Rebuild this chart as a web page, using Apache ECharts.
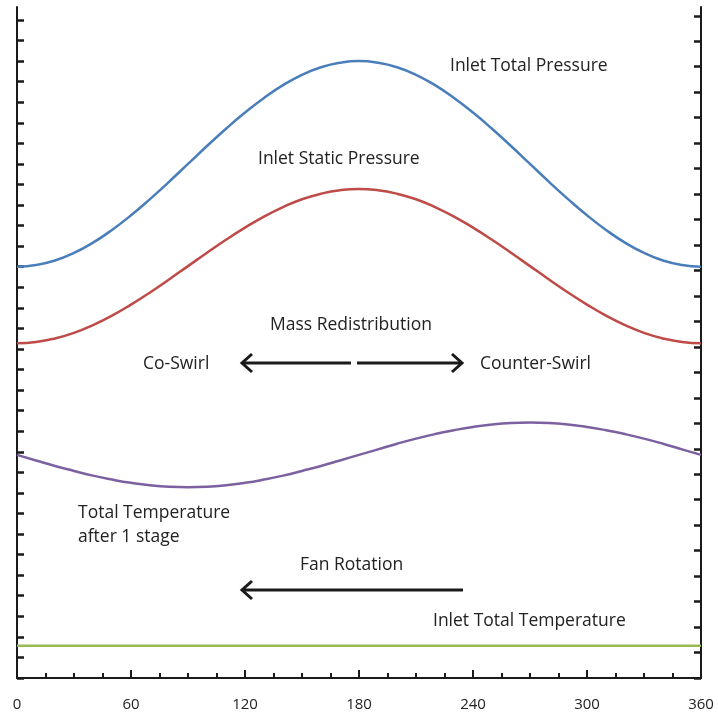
<!DOCTYPE html>
<html>
<head>
<meta charset="utf-8">
<script src="https://cdn.jsdelivr.net/npm/echarts@6/dist/echarts.min.js"></script>
<style>
  html, body { margin: 0; padding: 0; background: #fff; }
  #chart { width: 718px; height: 715px; }
</style>
</head>
<body>
<div id="chart"></div>
<script>
// Circumferential angle (deg) of each sample
const angles = [0, 10, 20, 30, 40, 50, 60, 70, 80, 90, 100, 110, 120, 130, 140, 150, 160, 170, 180,
                190, 200, 210, 220, 230, 240, 250, 260, 270, 280, 290, 300, 310, 320, 330, 340, 350, 360];

// Relative levels along the circumference
const inletTotalPressure = [20.0, 20.08, 20.3, 20.67, 21.17, 21.79, 22.5, 23.29, 24.13, 25.0, 25.87, 26.71, 27.5,
                            28.21, 28.83, 29.33, 29.7, 29.92, 30.0,
                            29.92, 29.7, 29.33, 28.83, 28.21, 27.5, 26.71, 25.87, 25.0, 24.13, 23.29, 22.5,
                            21.79, 21.17, 20.67, 20.3, 20.08, 20.0];
const inletStaticPressure = [16.28, 16.34, 16.51, 16.78, 17.16, 17.62, 18.16, 18.75, 19.38, 20.03, 20.68, 21.31, 21.9,
                             22.44, 22.9, 23.28, 23.55, 23.72, 23.78,
                             23.72, 23.55, 23.28, 22.9, 22.44, 21.9, 21.31, 20.68, 20.03, 19.38, 18.75, 18.16,
                             17.62, 17.16, 16.78, 16.51, 16.34, 16.28];
const totalTempStage1 = [10.85, 10.58, 10.31, 10.07, 9.84, 9.65, 9.49, 9.37, 9.30, 9.28, 9.30, 9.37, 9.49,
                         9.65, 9.84, 10.07, 10.31, 10.58, 10.85,
                         11.12, 11.39, 11.64, 11.86, 12.05, 12.21, 12.33, 12.40, 12.42, 12.40, 12.33, 12.21,
                         12.05, 11.86, 11.64, 11.39, 11.12, 10.85];
const inletTotalTemperature = angles.map(() => 1.57);

// Axis ranges and tick positions
const xTicks = [0, 60, 120, 180, 240, 300, 360];
const leftMax = 32.63;
const leftTicks = Array.from({length: 33}, (_, i) => i);
const rightMax = 26.345;
const rightTicks = Array.from({length: 27}, (_, i) => i);

const pair = (ys) => angles.map((a, i) => [a, ys[i]]);

const chart = echarts.init(document.getElementById('chart'));
const INK = '#1a1a1a';
const FAMILY = '"Open Sans", sans-serif';
const FONT = '17.5px ' + FAMILY;

function label(text, x, y) {
  return { type: 'text', x: x, y: y, z: 10,
    style: { text: text, font: FONT, fill: '#222', textAlign: 'left', textVerticalAlign: 'middle' } };
}
function arrow(x1, x2, y) {
  const dir = x2 < x1 ? 1 : -1;
  return { type: 'group', z: 10, children: [
    { type: 'line', shape: { x1: x1, y1: y, x2: x2, y2: y }, style: { stroke: INK, lineWidth: 3 } },
    { type: 'polyline', shape: { points: [[x2 + dir * 10, y - 9], [x2, y], [x2 + dir * 10, y + 9]] },
      style: { stroke: INK, lineWidth: 3, fill: null, lineJoin: 'miter' } }
  ]};
}

const lineSeries = (name, ys, color) => ({
  name: name, type: 'line', data: pair(ys), smooth: true, symbol: 'none',
  lineStyle: { color: color, width: 2.5 }, yAxisIndex: 0
});

chart.setOption({
  animation: false,
  backgroundColor: '#fff',
  grid: { left: 17, right: 17, top: 7, bottom: 37, containLabel: false },
  xAxis: {
    type: 'value', min: 0, max: 360, interval: 60,
    axisLine: { lineStyle: { color: INK, width: 2 } },
    axisTick: { inside: true, length: 8, lineStyle: { color: INK, width: 2 } },
    minorTick: { show: true, splitNumber: 4, length: 5, lineStyle: { color: INK, width: 2 } },
    axisLabel: { margin: 19, fontSize: 15, color: '#222', fontFamily: FAMILY, customValues: xTicks },
    splitLine: { show: false }
  },
  yAxis: [
    { type: 'value', position: 'left', min: 0, max: leftMax,
      axisLine: { show: true, lineStyle: { color: INK, width: 2 } },
      axisTick: { show: true, inside: true, length: 7, customValues: leftTicks, lineStyle: { color: INK, width: 2.5 } },
      axisLabel: { show: false }, splitLine: { show: false } },
    { type: 'value', position: 'right', min: 0, max: rightMax,
      axisLine: { show: true, lineStyle: { color: INK, width: 2 } },
      axisTick: { show: true, inside: true, length: 7, customValues: rightTicks, lineStyle: { color: INK, width: 2.5 } },
      axisLabel: { show: false }, splitLine: { show: false } }
  ],
  series: [
    lineSeries('Inlet Total Pressure', inletTotalPressure, '#4a7ebb'),
    lineSeries('Inlet Static Pressure', inletStaticPressure, '#be4b48'),
    lineSeries('Total Temperature after 1 stage', totalTempStage1, '#7d60a0'),
    lineSeries('Inlet Total Temperature', inletTotalTemperature, '#98b954')
  ],
  graphic: [
    label('Inlet Total Pressure', 450, 66),
    label('Inlet Static Pressure', 258, 159),
    label('Mass Redistribution', 270, 325),
    label('Co-Swirl', 143, 364),
    label('Counter-Swirl', 480, 364),
    label('Total Temperature', 78, 513),
    label('after 1 stage', 78, 537),
    label('Fan Rotation', 300, 565),
    label('Inlet Total Temperature', 433, 621),
    arrow(351, 242, 363),
    arrow(357, 462, 363),
    arrow(463, 242, 590)
  ]
});
</script>
</body>
</html>
